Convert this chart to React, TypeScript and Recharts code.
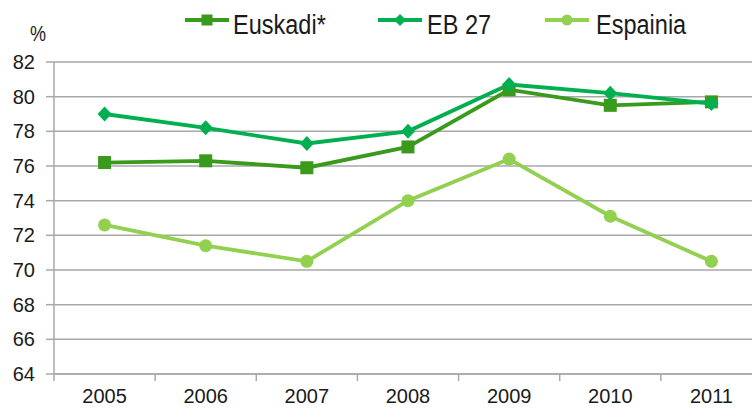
import { LineChart, Line, XAxis, YAxis, CartesianGrid } from 'recharts'

const years = ['2005', '2006', '2007', '2008', '2009', '2010', '2011']
const euskadi = [76.2, 76.3, 75.9, 77.1, 80.4, 79.5, 79.7]
const eb27 = [79.0, 78.2, 77.3, 78.0, 80.7, 80.2, 79.6]
const espainia = [72.6, 71.4, 70.5, 74.0, 76.4, 73.1, 70.5]
const yTicks = [64, 66, 68, 70, 72, 74, 76, 78, 80, 82]

const data = years.map((year, i) => ({
  year,
  euskadi: euskadi[i],
  eb27: eb27[i],
  espainia: espainia[i],
}))

const C_EUSKADI = '#3a9a1c'
const C_EB27 = '#00b050'
const C_ESPAINIA = '#92d050'
const GRID = '#a8a8a8'
const TEXT = '#1a1a1a'
const FONT = '"Liberation Sans", Arial, sans-serif'

const squareDot = (p: any) => (
  <rect key={`sq-${p.index}`} x={p.cx - 6.5} y={p.cy - 6.5} width={13} height={13} fill={C_EUSKADI} />
)
const diamondDot = (p: any) => (
  <path
    key={`dm-${p.index}`}
    d={`M${p.cx},${p.cy - 7.5} L${p.cx + 7},${p.cy} L${p.cx},${p.cy + 7.5} L${p.cx - 7},${p.cy} Z`}
    fill={C_EB27}
  />
)
const circleDot = (p: any) => (
  <circle key={`ci-${p.index}`} cx={p.cx} cy={p.cy} r={6.5} fill={C_ESPAINIA} />
)

// year label centred in its band, tick mark on the band edge
function YearTick(props: any) {
  const { x, y, payload } = props
  const half = payload.offset ?? 0
  return (
    <g>
      <line x1={x - half} x2={x - half} y1={y} y2={y + 7} stroke={GRID} strokeWidth={1.5} />
      <text x={x} y={y + 29} textAnchor="middle" fill={TEXT} fontSize={20} fontFamily={FONT}>
        {payload.value}
      </text>
    </g>
  )
}

// legend drawn on top, condensed like the original
function TopLegend() {
  const items = [
    { name: 'Euskadi*', color: C_EUSKADI, x: 185, tx: 233, shape: 'square' },
    { name: 'EB 27', color: C_EB27, x: 378, tx: 427, shape: 'diamond' },
    { name: 'Espainia', color: C_ESPAINIA, x: 545, tx: 596, shape: 'circle' },
  ]
  return (
    <svg width={752} height={50} style={{ position: 'absolute', top: 0, left: 0 }}>
      <text transform="translate(30,41) scale(0.82,1)" fontSize={22} fill={TEXT} fontFamily={FONT}>%</text>
      {items.map((it) => {
        const mid = it.x + 22
        return (
          <g key={it.name}>
            <line x1={it.x} x2={it.x + 44} y1={20} y2={20} stroke={it.color} strokeWidth={4} />
            {it.shape === 'square' && <rect x={mid - 5.5} y={14.5} width={11} height={11} fill={it.color} />}
            {it.shape === 'diamond' && (
              <path d={`M${mid},${14} L${mid + 6},${20} L${mid},${26} L${mid - 6},${20} Z`} fill={it.color} />
            )}
            {it.shape === 'circle' && <circle cx={mid} cy={20} r={5.5} fill={it.color} />}
            <text
              transform={`translate(${it.tx},34) scale(0.84,1)`}
              fontSize={28}
              fill={TEXT}
              fontFamily={FONT}
            >
              {it.name}
            </text>
          </g>
        )
      })}
    </svg>
  )
}

export default function App() {
  return (
    <div style={{ position: 'absolute', top: 0, left: 0, width: 752, height: 408, overflow: 'hidden', background: '#fff' }}>
      <LineChart width={752} height={408} data={data} margin={{ top: 62, right: -10, bottom: 0, left: 0 }}>
        <CartesianGrid vertical={false} stroke={GRID} strokeWidth={1.5} />
        <XAxis
          dataKey="year"
          scale="band"
          height={34}
          axisLine={{ stroke: GRID, strokeWidth: 1.5 }}
          tickLine={false}
          tickSize={0}
          tickMargin={0}
          tick={<YearTick />}
          interval={0}
        />
        <YAxis
          width={54}
          domain={[64, 82]}
          ticks={yTicks}
          interval={0}
          axisLine={{ stroke: GRID, strokeWidth: 1.5 }}
          tickLine={{ stroke: GRID, strokeWidth: 1.5 }}
          tickSize={8}
          tickMargin={11}
          tick={{ fill: TEXT, fontSize: 20, fontFamily: FONT }}
        />
        <Line
          dataKey="espainia"
          name="Espainia"
          stroke={C_ESPAINIA}
          strokeWidth={3.8}
          dot={circleDot}
          activeDot={false}
          isAnimationActive={false}
        />
        <Line
          dataKey="euskadi"
          name="Euskadi*"
          stroke={C_EUSKADI}
          strokeWidth={3.8}
          dot={squareDot}
          activeDot={false}
          isAnimationActive={false}
        />
        <Line
          dataKey="eb27"
          name="EB 27"
          stroke={C_EB27}
          strokeWidth={3.8}
          dot={diamondDot}
          activeDot={false}
          isAnimationActive={false}
        />
      </LineChart>
      <TopLegend />
    </div>
  )
}
